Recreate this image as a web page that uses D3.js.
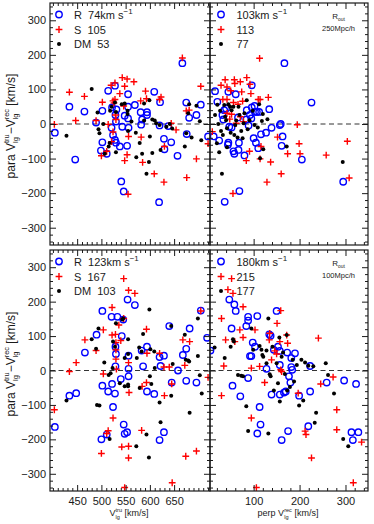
<!DOCTYPE html>
<html>
<head>
<meta charset="utf-8">
<script src="https://cdn.jsdelivr.net/npm/d3@7"></script>
<style>
body { margin: 0; background: #fff; }
svg { font-family: "Liberation Sans", Arial, sans-serif; }
text { white-space: pre; }
</style>
</head>
<body>
<svg width="374" height="524"></svg>
<script>
// [x, para residual] per panel and sample
var tlR = [[404,-25],[434,50],[446,-103],[465,36],[489,4],[502,38],[502,-53],[499,-77],[511,-86],[514,96],[528,111],[522,48],[531,42],[521,-11],[524,-32],[528,-46],[530,-54],[529,26],[530,7],[538,-65],[541,-166],[546,-195],[543,-8],[548,24],[555,50],[555,86],[555,16],[556,-11],[553,-63],[569,55],[581,34],[584,13],[594,34],[594,26],[582,-2],[609,93],[619,-226],[621,63],[620,-4],[629,-43],[630,-73],[638,-6],[644,-53],[657,-92],[667,176],[675,62],[676,-29],[681,18],[696,26],[705,56],[720,-36]];
var tlS = [[403,-1],[434,92],[447,10],[465,80],[489,10],[502,63],[500,-92],[511,-79],[514,-1],[520,112],[528,119],[524,67],[526,61],[528,71],[529,26],[530,13],[524,-23],[521,-51],[538,88],[543,134],[548,109],[553,130],[546,52],[548,-106],[553,-89],[556,-36],[555,-203],[567,122],[581,67],[591,95],[593,73],[582,-38],[585,-111],[609,-144],[620,71],[623,78],[629,-168],[644,2],[654,-17],[667,191],[675,38],[681,40],[676,-155],[696,-101],[705,109],[720,-57],[630,-65]];
var tlDM = [[428,-34],[480,101],[492,33],[494,-15],[496,-27],[504,0],[507,-86],[515,-65],[517,-55],[518,38],[521,50],[528,62],[530,35],[530,-82],[542,57],[548,59],[554,38],[554,29],[555,-20],[562,7],[571,-25],[572,-96],[579,-55],[584,-86],[588,59],[593,-144],[599,69],[598,-110],[600,-36],[605,13],[605,-84],[610,10],[613,2],[620,-3],[622,-75],[634,-8],[641,0],[646,-13],[672,-65],[675,-27],[679,31],[681,57],[686,-39],[696,53],[703,8],[706,-47],[588,10]];

var trR = [[16,95],[21,64],[25,-48],[32,26],[34,13],[36,40],[40,45],[45,93],[45,-54],[44,-60],[47,-8],[52,-10],[56,-79],[58,-86],[61,86],[66,19],[68,-54],[67,-75],[69,-194],[80,-91],[84,13],[85,40],[89,-4],[92,26],[95,16],[96,112],[96,48],[100,-41],[102,52],[103,35],[105,-54],[107,35],[110,-70],[112,35],[116,-30],[127,-25],[134,43],[139,-11],[157,-3],[159,0],[161,-63],[163,-36],[167,176],[205,-103],[226,62],[295,-167],[37,-225],[13,-36]];
var trS = [[10,-22],[29,112],[38,128],[33,71],[42,71],[42,107],[50,96],[58,128],[59,117],[71,122],[74,93],[85,134],[92,115],[94,88],[113,190],[76,66],[66,57],[56,62],[48,14],[42,31],[52,28],[78,7],[110,71],[114,71],[132,77],[91,-79],[84,-106],[116,-65],[114,-101],[137,-110],[152,-38],[160,-144],[129,-168],[55,-201],[174,-86],[195,-2],[199,-57],[201,-86],[258,-90],[304,-50],[308,-156],[71,21],[62,2]];
var trDM = [[16,26],[21,56],[20,-56],[23,0],[25,-82],[31,-144],[29,-20],[33,-32],[36,55],[38,21],[40,11],[42,-12],[42,-67],[45,57],[49,50],[50,-25],[52,40],[56,50],[58,-32],[60,-3],[62,10],[65,-39],[67,50],[69,26],[73,-20],[76,-41],[78,2],[85,69],[87,-15],[91,11],[98,38],[102,-3],[109,-10],[112,57],[114,-99],[118,9],[121,-73],[130,14],[120,29],[172,-65],[294,-110],[27,38],[80,31]];

var blR = [[404,-164],[434,-73],[448,-66],[466,52],[490,104],[500,-200],[502,173],[502,-44],[511,-186],[514,-61],[521,156],[522,-39],[524,-106],[528,-67],[529,69],[530,48],[529,12],[533,156],[540,-25],[542,100],[545,148],[546,-157],[548,-184],[553,-179],[554,206],[556,43],[556,5],[556,-17],[569,190],[583,58],[586,12],[594,69],[594,-61],[609,-68],[620,39],[622,13],[629,43],[620,-202],[629,-179],[640,129],[645,-35],[658,0],[668,45],[675,63],[675,-30],[682,122],[696,-35],[705,174],[718,95]];
var blS = [[403,-114],[434,-3],[448,23],[466,89],[489,58],[500,-241],[504,118],[504,-10],[511,-183],[514,-175],[522,183],[522,103],[524,-138],[529,105],[530,81],[530,60],[530,33],[531,4],[536,132],[540,87],[542,-222],[546,267],[546,151],[548,-340],[556,233],[556,23],[557,-64],[556,-220],[556,-254],[569,224],[583,-174],[584,-46],[593,120],[593,-35],[594,50],[620,50],[629,10],[630,-73],[640,10],[645,-39],[646,-326],[668,89],[672,15],[674,-249],[682,84],[696,-234],[705,173],[720,-20]];
var blDM = [[428,-87],[480,91],[489,63],[494,122],[491,-100],[496,-102],[506,23],[515,-13],[519,-8],[523,7],[524,84],[528,69],[530,137],[517,-199],[538,-37],[543,148],[545,151],[548,-46],[555,-46],[555,91],[555,48],[555,-41],[548,36],[572,-220],[573,36],[578,67],[579,-51],[583,55],[586,106],[593,-186],[599,177],[600,-17],[601,62],[603,-39],[609,55],[610,7],[620,-93],[622,-150],[598,-253],[644,129],[644,-73],[647,19],[672,104],[674,31],[679,29],[681,26],[682,-123],[699,151],[699,42],[703,-14],[707,-67]];

var brR = [[6,58],[47,206],[58,192],[61,173],[52,122],[54,-44],[71,-75],[88,156],[88,145],[84,129],[88,-22],[92,42],[95,42],[98,81],[103,69],[108,158],[108,-183],[113,-106],[115,-157],[128,5],[134,105],[137,101],[139,-70],[144,60],[150,173],[153,69],[157,57],[157,16],[157,-70],[161,-202],[166,-64],[170,-61],[173,52],[175,-176],[177,-17],[180,-35],[182,36],[182,10],[184,2],[190,50],[199,-73],[223,13],[223,-61],[219,-162],[259,-35],[297,-29],[323,-39],[313,-179],[316,-202],[328,-179]];
var brS = [[30,151],[39,89],[35,13],[30,-73],[44,235],[55,224],[77,185],[70,118],[59,84],[77,96],[95,7],[103,118],[95,-138],[106,-340],[113,12],[124,-35],[134,89],[135,108],[139,31],[146,57],[150,48],[151,137],[159,174],[157,84],[159,2],[161,-3],[172,103],[174,79],[197,-66],[212,-176],[214,-186],[226,-254],[241,94],[246,-39],[273,-19],[281,-172],[281,-114],[317,-326],[335,-208],[52,267]];
var brDM = [[15,67],[37,36],[50,69],[55,91],[57,84],[66,-13],[73,-15],[77,-17],[84,-104],[88,-176],[95,122],[99,60],[113,71],[117,60],[119,45],[121,40],[128,21],[132,151],[132,-183],[135,-11],[137,-17],[141,69],[144,-58],[150,21],[153,-37],[156,96],[157,-90],[161,40],[164,52],[168,-10],[172,103],[173,-58],[179,-48],[185,31],[188,-32],[194,16],[199,-102],[204,31],[208,-87],[212,23],[219,14],[230,12],[233,-152],[236,-123],[257,21],[262,-13],[275,-67],[295,-199],[306,-220],[128,58]];

// legend rows (rms values)
var legTL = ["R  74km s", "S  105", "DM  53"];
var legTR = ["103km s", "113", "77"];
var legBL = ["R  123km s", "S  167", "DM  103"];
var legBR = ["180km s", "215", "177"];
var routTop = "250Mpc/h", routBot = "100Mpc/h";

var ticksXL = [450, 500, 550, 600, 650];
var ticksXR = [100, 200, 300];
var ticksY = [-300, -200, -100, 0, 100, 200, 300];

var svg = d3.select("svg");

var xL = d3.scaleLinear().domain([394, 724]).range([50, 210]);
var xR = d3.scaleLinear().domain([5, 349]).range([210, 368]);
var yT = d3.scaleLinear().domain([-350, 350]).range([245, 3]);
var yB = d3.scaleLinear().domain([-350, 350]).range([491, 250]);

var minorXL = d3.range(400, 724, 10).filter(function(v) { return ticksXL.indexOf(v) < 0; });
var minorXR = d3.range(20, 349, 20).filter(function(v) { return ticksXR.indexOf(v) < 0; });
var minorY = d3.range(-340, 350, 20).filter(function(v) { return ticksY.indexOf(v) < 0; });

var panels = [
  {id: "tl", x: xL, y: yT, R: tlR, S: tlS, DM: tlDM, leg: legTL, rout: null, xlab: false, ylab: true, maj: ticksXL, min: minorXL},
  {id: "tr", x: xR, y: yT, R: trR, S: trS, DM: trDM, leg: legTR, rout: routTop, xlab: false, ylab: false, maj: ticksXR, min: minorXR},
  {id: "bl", x: xL, y: yB, R: blR, S: blS, DM: blDM, leg: legBL, rout: null, xlab: true, ylab: true, maj: ticksXL, min: minorXL},
  {id: "br", x: xR, y: yB, R: brR, S: brS, DM: brDM, leg: legBR, rout: routBot, xlab: true, ylab: false, maj: ticksXR, min: minorXR}
];

var ink = "#1a1a1a";

// text with stacked sub/superscripts, laid out by measuring
function richText(g, parts, size, subDrop) {
  var x = 0;
  parts.forEach(function(p) {
    if (typeof p === "string") {
      var t = g.append("text").attr("x", x).attr("font-size", size).attr("fill", ink).text(p);
      x += t.node().getComputedTextLength();
    } else {
      var s = size * 0.62;
      var a = g.append("text").attr("x", x).attr("y", size * (subDrop || 0.32)).attr("font-size", s).attr("fill", ink).text(p.sub || "");
      var b = g.append("text").attr("x", x).attr("y", -size * 0.48).attr("font-size", s).attr("fill", ink).text(p.sup || "");
      x += Math.max(a.node().getComputedTextLength(), b.node().getComputedTextLength());
    }
  });
  return x;
}

function axis(g, gen, vals, size, labels, pad) {
  g.call(gen.tickValues(vals).tickSizeInner(-size).tickSizeOuter(0).tickPadding(pad || 3)
    .tickFormat(labels ? d3.format("d") : ""));
  g.select(".domain").remove();
  g.selectAll(".tick line").attr("stroke", ink).attr("stroke-width", 1);
  g.selectAll(".tick text").attr("fill", ink).attr("font-size", 11)
    .attr("font-family", "Liberation Sans, Arial, sans-serif");
}

panels.forEach(function(p) {
  var x0 = p.x.range()[0], x1 = p.x.range()[1];
  var y0 = p.y.range()[1], y1 = p.y.range()[0];
  var g = svg.append("g");

  svg.append("clipPath").attr("id", "clip-" + p.id)
    .append("rect").attr("x", x0).attr("y", y0).attr("width", x1 - x0).attr("height", y1 - y0);

  // zero line
  g.append("line")
    .attr("x1", x0).attr("x2", x1)
    .attr("y1", p.y(0)).attr("y2", p.y(0))
    .attr("stroke", "#333").attr("stroke-width", 1).attr("stroke-dasharray", "5,3.5");

  var pts = g.append("g").attr("clip-path", "url(#clip-" + p.id + ")");

  pts.selectAll("circle.r").data(p.R).enter().append("circle")
    .attr("class", "r")
    .attr("cx", function(d) { return p.x(d[0]); })
    .attr("cy", function(d) { return p.y(d[1]); })
    .attr("r", 3.2)
    .attr("fill", "none").attr("stroke", "#0000ff").attr("stroke-width", 1.4);

  pts.selectAll("path.s").data(p.S).enter().append("path")
    .attr("class", "s")
    .attr("d", function(d) {
      var cx = p.x(d[0]), cy = p.y(d[1]);
      return "M" + (cx - 3.4) + "," + cy + "H" + (cx + 3.4) + "M" + cx + "," + (cy - 3.4) + "V" + (cy + 3.4);
    })
    .attr("stroke", "#ff0000").attr("stroke-width", 1.4);

  pts.selectAll("circle.dm").data(p.DM).enter().append("circle")
    .attr("class", "dm")
    .attr("cx", function(d) { return p.x(d[0]); })
    .attr("cy", function(d) { return p.y(d[1]); })
    .attr("r", 2)
    .attr("fill", "#000");

  // axes on all four sides, ticks inward
  axis(g.append("g").attr("transform", "translate(0," + y1 + ")"), d3.axisBottom(p.x), p.maj, 6, p.xlab, 6);
  axis(g.append("g").attr("transform", "translate(0," + y1 + ")"), d3.axisBottom(p.x), p.min, 3, false);
  axis(g.append("g").attr("transform", "translate(0," + y0 + ")"), d3.axisTop(p.x), p.maj, 6, false);
  axis(g.append("g").attr("transform", "translate(0," + y0 + ")"), d3.axisTop(p.x), p.min, 3, false);
  axis(g.append("g").attr("transform", "translate(" + x0 + ",0)"), d3.axisLeft(p.y), ticksY, 6, p.ylab, 4);
  axis(g.append("g").attr("transform", "translate(" + x0 + ",0)"), d3.axisLeft(p.y), minorY, 3, false);
  axis(g.append("g").attr("transform", "translate(" + x1 + ",0)"), d3.axisRight(p.y), ticksY, 6, false);
  axis(g.append("g").attr("transform", "translate(" + x1 + ",0)"), d3.axisRight(p.y), minorY, 3, false);

  g.append("rect")
    .attr("x", x0).attr("y", y0).attr("width", x1 - x0).attr("height", y1 - y0)
    .attr("fill", "none").attr("stroke", ink).attr("stroke-width", 1.2);

  // legend
  var lx = p.rout ? x0 + 11 : x0 + 9;
  var tx = p.rout ? x0 + 26.5 : x0 + 24;
  var rows = [11.5, 26.5, 41];
  var lg = g.append("g");
  lg.append("circle").attr("cx", lx).attr("cy", y0 + rows[0]).attr("r", 3.2)
    .attr("fill", "none").attr("stroke", "#0000ff").attr("stroke-width", 1.4);
  lg.append("path")
    .attr("d", "M" + (lx - 3.4) + "," + (y0 + rows[1]) + "H" + (lx + 3.4) + "M" + lx + "," + (y0 + rows[1] - 3.4) + "V" + (y0 + rows[1] + 3.4))
    .attr("stroke", "#ff0000").attr("stroke-width", 1.4);
  lg.append("circle").attr("cx", lx).attr("cy", y0 + rows[2]).attr("r", 2).attr("fill", "#000");
  p.leg.forEach(function(s, i) {
    var t = lg.append("text").attr("x", tx).attr("y", y0 + rows[i] + 4)
      .attr("font-size", 11).attr("fill", ink).text(s);
    if (i === 0) t.append("tspan").attr("dy", -4.5).attr("font-size", 8).text("\u22121");
  });

  if (p.rout) {
    var rg = g.append("g");
    var w = richText(rg, ["R", {sub: "out"}], 8, 0.2);
    rg.attr("transform", "translate(" + (338.5 - w / 2) + "," + (y0 + 16) + ")");
    g.append("text").attr("x", 338.5).attr("y", y0 + 27.5)
      .attr("text-anchor", "middle").attr("font-size", 7.5).attr("fill", ink).text(p.rout);
  }
});

// y labels
[[126, yT], [364, yB]].forEach(function(c) {
  var outer = svg.append("g").attr("transform", "translate(14.5," + c[0] + ") rotate(-90)");
  var inner = outer.append("g");
  var w = richText(inner, ["para V", {sub: "lg", sup: "tru"}, "\u2212V", {sub: "lg", sup: "rec"}, " [km/s]"], 12);
  inner.attr("transform", "translate(" + (-w / 2) + ",0)");
});

// x labels
var xl1 = svg.append("g");
var w1 = richText(xl1, ["V", {sub: "lg", sup: "tru"}, " [km/s]"], 9);
xl1.attr("transform", "translate(" + (129 - w1 / 2) + ",516)");
var xl2 = svg.append("g");
var w2 = richText(xl2, ["perp V", {sub: "lg", sup: "rec"}, " [km/s]"], 9);
xl2.attr("transform", "translate(" + (288 - w2 / 2) + ",516)");
</script>
</body>
</html>
